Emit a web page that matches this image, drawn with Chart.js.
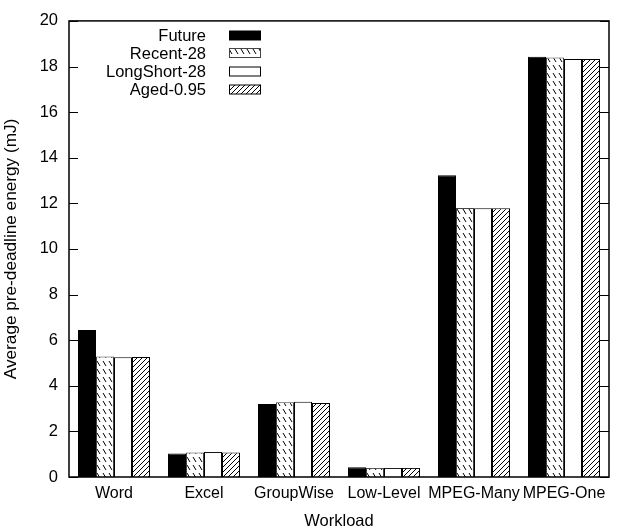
<!DOCTYPE html>
<html>
<head>
<meta charset="utf-8">
<script src="https://cdn.jsdelivr.net/npm/chart.js@4"></script>
<style>
  html, body { margin: 0; padding: 0; background: #fff; }
  #wrap { width: 618px; height: 531px; }
</style>
</head>
<body>
<div id="wrap"><canvas id="chart" width="618" height="531"></canvas></div>
<script>
// workloads and per-policy energy (mJ)
const workloads = ['Word', 'Excel', 'GroupWise', 'Low-Level', 'MPEG-Many', 'MPEG-One'];
const seriesNames = ['Future', 'Recent-28', 'LongShort-28', 'Aged-0.95'];
const future      = [6.45, 1.03, 3.2, 0.43, 13.23, 18.43];
const recent28    = [5.28, 1.07, 3.28, 0.4, 11.8, 18.4];
const longShort28 = [5.25, 1.1, 3.3, 0.4, 11.78, 18.33];
const aged095     = [5.26, 1.07, 3.25, 0.4, 11.78, 18.33];
const yTicks = [0, 2, 4, 6, 8, 10, 12, 14, 16, 18, 20];

const FONT = 'Liberation Sans, Arial, sans-serif';
const FS = 16.5;

// little hatch tiles, drawn once
function makePattern(kind) {
  const c = document.createElement('canvas');
  const ctx = c.getContext('2d');
  if (kind === 'slash') {
    c.width = 5; c.height = 5;
    ctx.fillStyle = '#fff'; ctx.fillRect(0, 0, 5, 5);
    ctx.strokeStyle = '#000'; ctx.lineWidth = 1;
    ctx.beginPath();
    ctx.moveTo(-1, 6); ctx.lineTo(6, -1);
    ctx.moveTo(-1, 1); ctx.lineTo(1, -1);
    ctx.moveTo(4, 6); ctx.lineTo(6, 4);
    ctx.stroke();
  } else {
    // dashed backslashes
    c.width = 6; c.height = 8;
    ctx.fillStyle = '#fff'; ctx.fillRect(0, 0, 6, 8);
    ctx.strokeStyle = '#000'; ctx.lineWidth = 1;
    ctx.beginPath();
    ctx.moveTo(1, 1); ctx.lineTo(4, 6);
    ctx.stroke();
  }
  return document.createElement('canvas').getContext('2d').createPattern(c, 'repeat');
}
const slashPat = makePattern('slash');
const dashPat = makePattern('dash');

const fills = ['#000', dashPat, '#fff', slashPat];
const borders = ['#000', '#444', '#000', '#000'];
const values = [future, recent28, longShort28, aged095];

// frame with inward ticks on both sides, plus the gnuplot-ish key
const framePlugin = {
  id: 'frame',
  afterDatasetsDraw(chart) {
    const { ctx, chartArea: a, scales } = chart;
    ctx.save();
    ctx.strokeStyle = '#000';
    ctx.lineWidth = 1;
    ctx.beginPath();
    yTicks.forEach(v => {
      const y = Math.round(scales.y.getPixelForValue(v)) + 0.5;
      ctx.moveTo(a.left, y); ctx.lineTo(a.left + 9, y);
      ctx.moveTo(a.right, y); ctx.lineTo(a.right - 9, y);
    });
    ctx.stroke();
    ctx.lineWidth = 1.5;
    ctx.strokeRect(a.left, a.top, a.right - a.left, a.bottom - a.top);

    // key
    ctx.font = FS + 'px ' + FONT;
    ctx.textAlign = 'right';
    ctx.textBaseline = 'middle';
    const rowY = [35.5, 53, 71.5, 89.5];
    seriesNames.forEach((name, i) => {
      ctx.fillStyle = '#000';
      ctx.fillText(name, 206, rowY[i] + 1);
      ctx.fillStyle = fills[i];
      ctx.fillRect(229, rowY[i] - 4.5, 32, 9);
      ctx.strokeStyle = borders[i];
      ctx.lineWidth = 1;
      ctx.strokeRect(229.5, rowY[i] - 4.5, 31, 9);
    });
    ctx.restore();
  }
};

new Chart(document.getElementById('chart'), {
  type: 'bar',
  data: {
    labels: workloads,
    datasets: seriesNames.map((name, i) => ({
      label: name,
      data: values[i],
      backgroundColor: fills[i],
      borderColor: borders[i],
      borderWidth: 1,
      categoryPercentage: 0.8,
      barPercentage: 1.0
    }))
  },
  options: {
    responsive: false,
    animation: false,
    devicePixelRatio: 1,
    layout: { padding: { top: 16, right: 9, bottom: 0, left: 0 } },
    plugins: { legend: { display: false }, tooltip: { enabled: false } },
    scales: {
      x: {
        grid: { display: false, drawTicks: false },
        border: { display: false },
        ticks: { color: '#000', font: { family: FONT, size: 16 }, padding: 7, maxRotation: 0, autoSkip: false },
        title: { display: true, text: 'Workload', color: '#000', font: { family: FONT, size: FS }, padding: { top: 3, bottom: 0 } },
        afterFit(s) { s.height = 54; }
      },
      y: {
        min: 0, max: 20,
        grid: { display: false, drawTicks: false },
        border: { display: false },
        ticks: { stepSize: 2, color: '#000', font: { family: FONT, size: FS }, padding: 11 },
        title: { display: true, text: 'Average pre-deadline energy (mJ)', color: '#000', font: { family: FONT, size: 17.2 }, padding: { top: 1, bottom: 4 } },
        afterFit(s) { s.width = 69; }
      }
    }
  },
  plugins: [framePlugin]
});
</script>
</body>
</html>
